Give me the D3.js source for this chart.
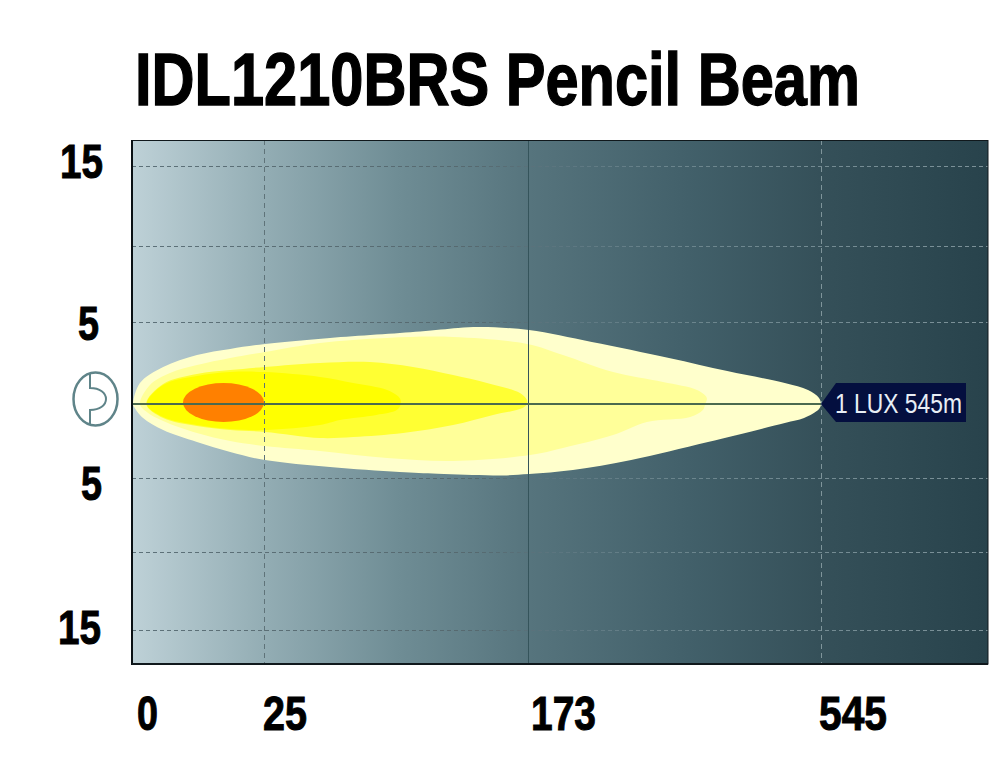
<!DOCTYPE html>
<html><head><meta charset="utf-8">
<script src="https://cdn.jsdelivr.net/npm/d3@7/dist/d3.min.js"></script>
<style>html,body{margin:0;padding:0;background:#fff}svg{display:block}text{font-family:"Liberation Sans",Arial,sans-serif}</style>
</head><body><div id="c"></div>
<script>
const title = "IDL1210BRS Pencil Beam";
// distances (m) and spread (m either side of the axis)
const distanceTicks = [0, 25, 173, 545];
const spreadGrid = [15, 10, 5, -5, -10, -15];
const spreadTickLabels = ["15", "5", "5", "15"];
const luxLabel = "1 LUX 545m";

// [distance, spread] contours
const lux1 = [[0.2,0],[1.5,1.28],[5.9,2.26],[12.3,2.99],[18.6,3.36],[25.6,3.66],[62,4.03],[112.5,4.42],[133.8,4.64],[146.7,4.7],[174.3,4.51],[254,3.78],[352,2.81],[426,2.01],[499,1.28],[528.5,0.85],[542.5,0.37],[545,0],[542.5,-0.34],[523.5,-0.95],[499,-1.28],[401.5,-2.57],[304,-3.78],[230,-4.46],[174.3,-4.73],[155,-4.83],[122.4,-4.72],[101,-4.6],[62,-4.26],[25.6,-3.79],[18.6,-3.24],[12.3,-2.57],[5.9,-1.76],[2.1,-0.95],[0.4,-0.2]];
const lux2 = [[1.5,0],[3.4,1.16],[7.2,1.89],[12.3,2.38],[18.6,2.81],[25.6,3.17],[56.4,3.72],[94,4.03],[131,4.09],[172.4,3.66],[217.4,2.99],[281,1.95],[344.4,1.34],[387.6,0.85],[400,0.37],[398,0],[395,-0.41],[379,-0.88],[324,-1.22],[281,-2.1],[217.4,-2.97],[175.5,-3.45],[131,-3.85],[94,-3.65],[56.4,-3.18],[25.6,-2.84],[18.6,-2.5],[12.3,-1.96],[5.9,-1.15],[2.8,-0.54]];
const lux3 = [[2.7,0],[5.9,1.22],[12.3,1.83],[18.6,2.07],[25.6,2.26],[56.4,2.5],[84.4,2.56],[108.5,2.26],[131,1.77],[150,1.28],[168.5,0.67],[172.4,0.24],[172.4,0],[170,-0.27],[153.4,-0.74],[131,-1.42],[103,-1.96],[75,-2.23],[56.4,-2.3],[25.6,-1.89],[18.6,-1.76],[12.3,-1.49],[5.9,-0.95]];
const lux4 = [[2.8,0],[5.9,1.16],[12.3,1.71],[18.6,1.95],[25.6,1.95],[56.4,1.65],[75,1.28],[94,0.85],[101,0.37],[101.7,0],[99.4,-0.41],[88,-0.74],[67.6,-1.08],[56.4,-1.42],[25.6,-1.76],[18.6,-1.69],[12.3,-1.42],[5.9,-0.88]];
const hotSpot = {from: 9.66, to: 25, top: 1.28, bottom: -1.22};

const W = 1000, H = 766, L = 132, R = 988, T = 140, B = 664;
const x = d3.scaleLinear().domain([0, 25, 173, 545, 757]).range([L, 264, 528, 821, R]);
const y = d3.scaleLinear().domain([15, 10, 5, 0, -5, -10, -15]).range([166, 246, 322, 404, 478, 552, 630]);

const svg = d3.select("#c").append("svg").attr("width", W).attr("height", H);
const defs = svg.append("defs");

const bg = defs.append("linearGradient").attr("id", "bg")
  .attr("gradientUnits", "userSpaceOnUse").attr("x1", L).attr("x2", R).attr("y1", 0).attr("y2", 0);
[[0, "#bed1d7"], [0.155, "#93adb4"], [0.31, "#6f8d95"], [0.465, "#56747d"], [0.65, "#42606a"], [0.805, "#355059"], [1, "#28434c"]]
  .forEach(s => bg.append("stop").attr("offset", s[0]).attr("stop-color", s[1]));

const gridH = defs.append("linearGradient").attr("id", "gridH")
  .attr("gradientUnits", "userSpaceOnUse").attr("x1", L).attr("x2", R).attr("y1", 0).attr("y2", 0);
[[0, "#5d7179"], [0.4, "#56696f"], [0.5, "#5c7680"], [0.62, "#6a848c"], [1, "#7d9299"]]
  .forEach(s => gridH.append("stop").attr("offset", s[0]).attr("stop-color", s[1]));

svg.append("rect").attr("x", L).attr("y", T).attr("width", R - L).attr("height", B - T).attr("fill", "url(#bg)");

// horizontal grid
svg.selectAll("line.gh").data(spreadGrid).join("line").attr("class", "gh")
  .attr("x1", L).attr("x2", R).attr("y1", d => y(d) + 0.5).attr("y2", d => y(d) + 0.5 + 0.001)
  .attr("stroke", "url(#gridH)").attr("stroke-width", 1).attr("stroke-dasharray", "4 3");

// beam contours
const contour = d3.line().x(d => x(d[0])).y(d => y(d[1])).curve(d3.curveCatmullRomClosed.alpha(0.5));
const layers = [[lux1, "#ffffcc"], [lux2, "#ffff99"], [lux3, "#ffff33"], [lux4, "#ffff00"]];
svg.selectAll("path.beam").data(layers).join("path").attr("class", "beam")
  .attr("d", d => contour(d[0])).attr("fill", d => d[1]);
svg.append("ellipse")
  .attr("cx", (x(hotSpot.from) + x(hotSpot.to)) / 2).attr("cy", (y(hotSpot.top) + y(hotSpot.bottom)) / 2)
  .attr("rx", (x(hotSpot.to) - x(hotSpot.from)) / 2).attr("ry", (y(hotSpot.bottom) - y(hotSpot.top)) / 2)
  .attr("fill", "#ff8000");

// vertical grid
const vStroke = {25: "#5f7379", 173: "#35545b", 545: "#7f959b"};
svg.selectAll("line.gv").data(distanceTicks.slice(1)).join("line").attr("class", "gv")
  .attr("x1", d => x(d) + 0.5).attr("x2", d => x(d) + 0.5).attr("y1", T).attr("y2", B)
  .attr("stroke", d => vStroke[d]).attr("stroke-width", 1)
  .attr("stroke-dasharray", d => d === 173 ? null : "5 4");

// axis line
svg.append("line").attr("x1", L).attr("x2", x(545)).attr("y1", y(0)).attr("y2", y(0))
  .attr("stroke", "#4b6a4f").attr("stroke-width", 2);

// frame
svg.append("rect").attr("x", L).attr("y", T + 0.5).attr("width", R - L).attr("height", B - T - 0.5)
  .attr("fill", "none").attr("stroke", "#10181c").attr("stroke-width", 1);
svg.append("line").attr("x1", L).attr("x2", L).attr("y1", T).attr("y2", B + 1).attr("stroke", "#0a1014").attr("stroke-width", 2);
svg.append("line").attr("x1", L).attr("x2", R).attr("y1", B).attr("y2", B).attr("stroke", "#10181c").attr("stroke-width", 2);

// places a text so that its natural width is squeezed to the wanted width
function fitText(sel, left, baseline, width) {
  const natural = sel.node().getComputedTextLength();
  sel.attr("transform", `translate(${left},${baseline}) scale(${width / natural},1)`);
}

// 1 lux tag
const tip = x(545), tagY = y(0);
const tag = d3.path();
tag.moveTo(tip, tagY); tag.lineTo(tip + 15, tagY - 21); tag.lineTo(966, tagY - 21);
tag.lineTo(966, tagY + 18); tag.lineTo(tip + 15, tagY + 18); tag.closePath();
svg.append("path").attr("d", tag.toString()).attr("fill", "#040f3f");
fitText(svg.append("text").text(luxLabel).attr("font-size", 27).attr("fill", "#e8eef5"), 835, 413, 127);

// title
fitText(svg.append("text").text(title).attr("font-size", 74).attr("font-weight", 700)
  .attr("fill", "#000").attr("stroke", "#000").attr("stroke-width", 1.4), 135, 104.5, 725);

// tick labels (hand placed in the original)
const yLabelPlace = [[60, 177.5, 43], [78, 339.5, 21], [81, 499.5, 21], [58, 643.5, 43]];
spreadTickLabels.forEach((d, i) => {
  fitText(svg.append("text").text(d).attr("font-size", 49).attr("font-weight", 700)
    .attr("fill", "#000").attr("stroke", "#000").attr("stroke-width", 1), ...yLabelPlace[i]);
});
const xLabelPlace = [[137, 21], [263, 44], [531, 65], [819, 68]];
distanceTicks.forEach((d, i) => {
  fitText(svg.append("text").text(d).attr("font-size", 49).attr("font-weight", 700)
    .attr("fill", "#000").attr("stroke", "#000").attr("stroke-width", 1), xLabelPlace[i][0], 729.5, xLabelPlace[i][1]);
});

// lamp icon
const lampStroke = "#5f8489";
svg.append("ellipse").attr("cx", 95.5).attr("cy", 399).attr("rx", 22).attr("ry", 26.5)
  .attr("fill", "none").attr("stroke", lampStroke).attr("stroke-width", 2.5);
const lamp = d3.path();
lamp.moveTo(90, 373); lamp.lineTo(90, 388);
lamp.bezierCurveTo(100, 388, 106, 393, 106, 399);
lamp.bezierCurveTo(106, 405, 100, 410, 90, 410);
lamp.lineTo(90, 425);
svg.append("path").attr("d", lamp.toString()).attr("fill", "none").attr("stroke", lampStroke).attr("stroke-width", 2);
</script></body></html>
